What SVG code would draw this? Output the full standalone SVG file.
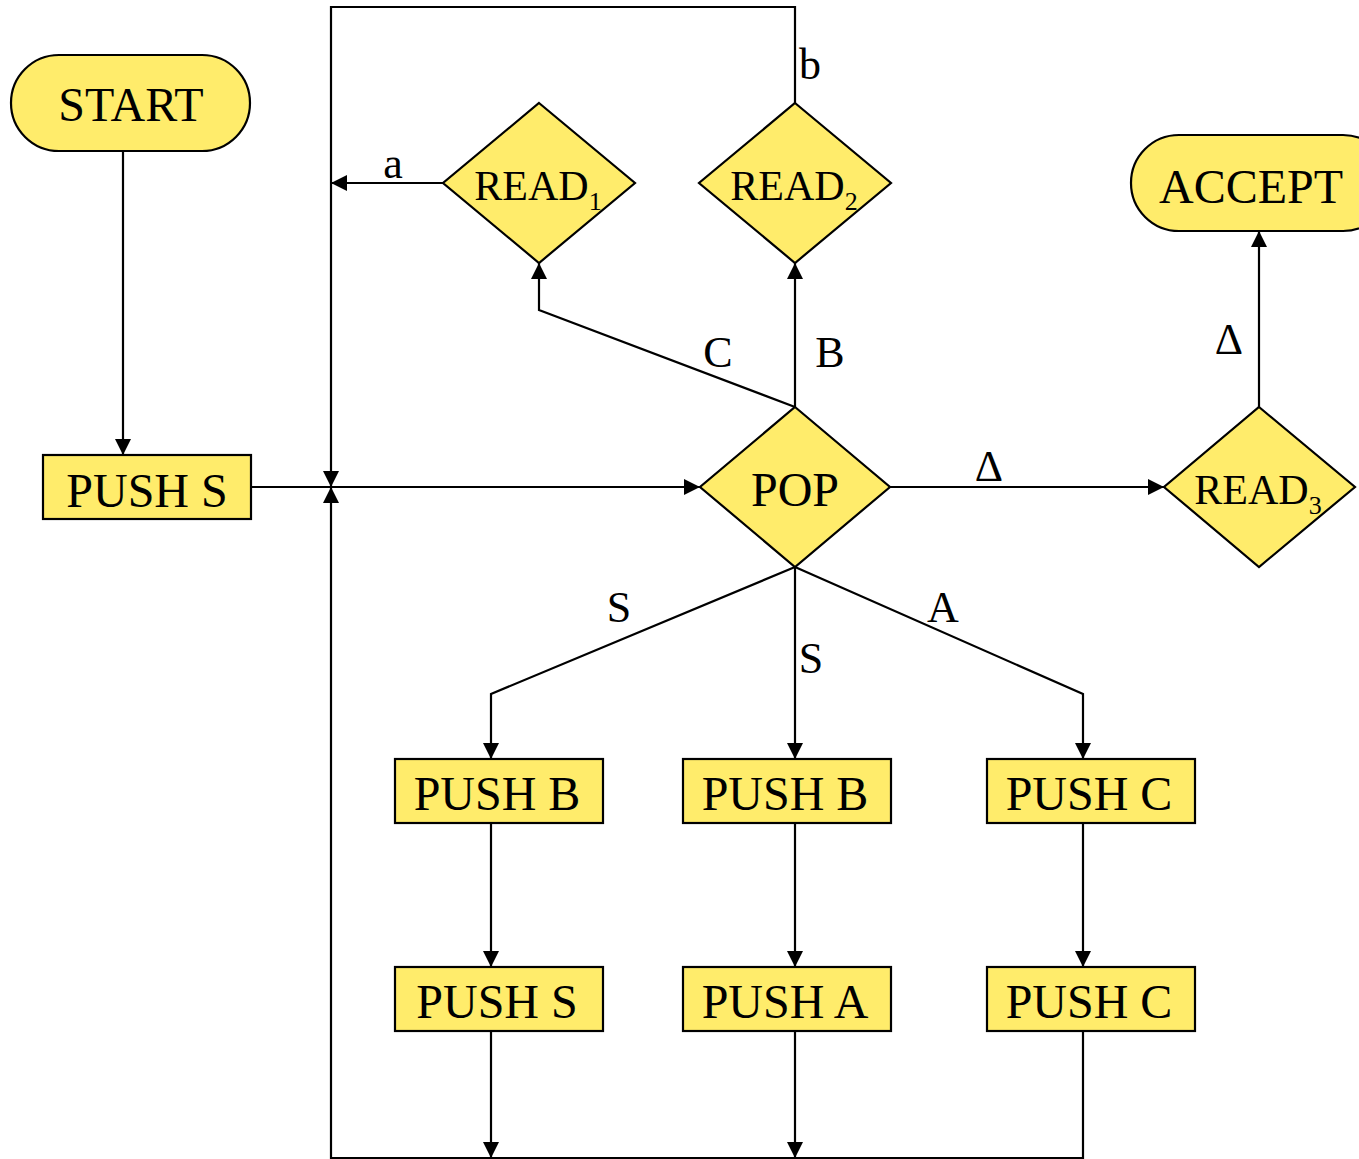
<svg xmlns="http://www.w3.org/2000/svg" width="1359" height="1159" viewBox="0 0 1359 1159">
<defs>
<marker id="ah" viewBox="0 0 10 10" refX="10" refY="5" markerWidth="16" markerHeight="16" markerUnits="userSpaceOnUse" orient="auto">
<path d="M0,0 L10,5 L0,10 z" fill="#000"/>
</marker>
<style>
.n{fill:#FFEC6B;stroke:#000;stroke-width:2.2}
.t{font-family:"Liberation Serif",serif;font-size:48px;fill:#000;text-anchor:middle}
.d{font-family:"Liberation Serif",serif;font-size:42px;fill:#000;text-anchor:middle}
.s{font-size:26px}
.l{font-family:"Liberation Serif",serif;font-size:44px;fill:#000;text-anchor:middle}
.c{fill:none;stroke:#000;stroke-width:2.2}
</style>
</defs>
<rect width="1359" height="1159" fill="#fff"/>
<g id="connectors">
<path class="c" d="M123,151 V455" marker-end="url(#ah)"/>
<path class="c" d="M251,487 H700" marker-end="url(#ah)"/>
<path class="c" d="M795,103 V7 H331 V487" marker-end="url(#ah)"/>
<path class="c" d="M443,183 H331" marker-end="url(#ah)"/>
<path class="c" d="M795,407 V263" marker-end="url(#ah)"/>
<path class="c" d="M795,407 L539,310 V263" marker-end="url(#ah)"/>
<path class="c" d="M890,487 H1164" marker-end="url(#ah)"/>
<path class="c" d="M1259,407 V231" marker-end="url(#ah)"/>
<path class="c" d="M795,567 L491,694 V759" marker-end="url(#ah)"/>
<path class="c" d="M795,567 V759" marker-end="url(#ah)"/>
<path class="c" d="M795,567 L1083,694 V759" marker-end="url(#ah)"/>
<path class="c" d="M491,823 V967" marker-end="url(#ah)"/>
<path class="c" d="M795,823 V967" marker-end="url(#ah)"/>
<path class="c" d="M1083,823 V967" marker-end="url(#ah)"/>
<path class="c" d="M491,1031 V1158" marker-end="url(#ah)"/>
<path class="c" d="M795,1031 V1158" marker-end="url(#ah)"/>
<path class="c" d="M1083,1031 V1158 H331 V487" marker-end="url(#ah)"/>
<text class="l" x="393" y="178">a</text>
<text class="l" x="810" y="79">b</text>
<text class="l" x="718" y="367">C</text>
<text class="l" x="830" y="367">B</text>
<text class="l" x="989" y="481">Δ</text>
<text class="l" x="1229" y="354">Δ</text>
<text class="l" x="619" y="622">S</text>
<text class="l" x="811" y="673">S</text>
<text class="l" x="943" y="622">A</text>
</g>
<g id="start"><rect class="n" x="11" y="55" width="239" height="96" rx="48"/><text class="t" x="131" y="121">START</text></g>
<g id="accept"><rect class="n" x="1131" y="135" width="260" height="96" rx="48"/><text class="t" x="1251" y="203">ACCEPT</text></g>
<g id="pushS0"><rect class="n" x="43" y="455" width="208" height="64"/><text class="t" x="147" y="507">PUSH S</text></g>
<g id="read1"><polygon class="n" points="539,103 635,183 539,263 443,183"/><text class="d" x="538" y="200">READ<tspan class="s" dy="10">1</tspan></text></g>
<g id="read2"><polygon class="n" points="795,103 891,183 795,263 699,183"/><text class="d" x="794" y="200">READ<tspan class="s" dy="10">2</tspan></text></g>
<g id="pop"><polygon class="n" points="795,407 890,487 795,567 700,487"/><text class="t" x="795" y="506">POP</text></g>
<g id="read3"><polygon class="n" points="1259,407 1355,487 1259,567 1164,487"/><text class="d" x="1258" y="504">READ<tspan class="s" dy="10">3</tspan></text></g>
<g id="pushB1"><rect class="n" x="395" y="759" width="208" height="64"/><text class="t" x="497" y="810">PUSH B</text></g>
<g id="pushB2"><rect class="n" x="683" y="759" width="208" height="64"/><text class="t" x="785" y="810">PUSH B</text></g>
<g id="pushC1"><rect class="n" x="987" y="759" width="208" height="64"/><text class="t" x="1089" y="810">PUSH C</text></g>
<g id="pushS"><rect class="n" x="395" y="967" width="208" height="64"/><text class="t" x="497" y="1018">PUSH S</text></g>
<g id="pushA"><rect class="n" x="683" y="967" width="208" height="64"/><text class="t" x="785" y="1018">PUSH A</text></g>
<g id="pushC2"><rect class="n" x="987" y="967" width="208" height="64"/><text class="t" x="1089" y="1018">PUSH C</text></g>
</svg>
